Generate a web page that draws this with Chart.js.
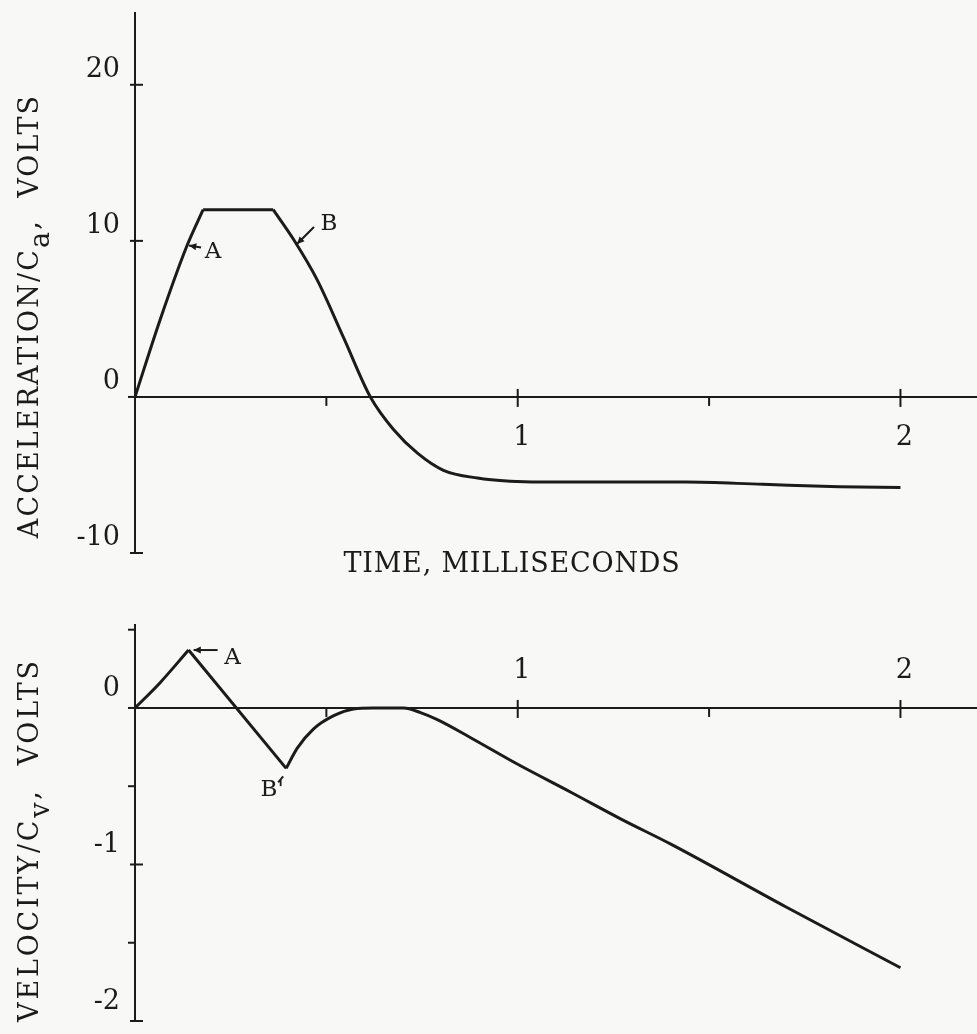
<!DOCTYPE html>
<html>
<head>
<meta charset="utf-8">
<script src="https://cdn.jsdelivr.net/npm/chart.js@4.4.1/dist/chart.umd.min.js"></script>
<style>
  html, body { margin: 0; padding: 0; background: #f8f8f6; }
  #page { position: relative; width: 977px; height: 1034px; overflow: hidden; }
  canvas { position: absolute; left: 0; }
  #accCanvas { top: 0; }
  #velCanvas { top: 590px; }
  .title {
    position: absolute; white-space: nowrap; color: #1b1b1b;
    font-family: "DejaVu Serif", serif; font-size: 27px;
  }
  .ytitle { transform: translate(-50%, -50%) rotate(-90deg); }
  .ytitle sub { font-size: 27px; vertical-align: -11px; line-height: 0; }
  #accTitle { left: 28px; top: 316px; letter-spacing: 2.1px; }
  #velTitle { left: 28px; top: 840px; letter-spacing: 2.8px; }
  #timeTitle { left: 512px; top: 562px; transform: translate(-50%, -50%); letter-spacing: 0.8px; }
</style>
</head>
<body>
<div id="page">
  <canvas id="accCanvas" width="977" height="570"></canvas>
  <canvas id="velCanvas" width="977" height="444"></canvas>
  <div class="title ytitle" id="accTitle">ACCELERATION/C<sub>a</sub>,&nbsp; VOLTS</div>
  <div class="title ytitle" id="velTitle">VELOCITY/C<sub>v</sub>,&nbsp; VOLTS</div>
  <div class="title" id="timeTitle">TIME, MILLISECONDS</div>
</div>
<script>
// time axis, milliseconds
const timeLabelTicks = [1, 2];
const timeMinorTicks = [0.5, 1.5];

// acceleration trace (volts), in three pieces: rise, flat top, fall + tail
const accRiseTime  = [0, 0.065, 0.136, 0.178];
const accRiseVolts = [0, 4.9, 9.7, 12.0];
const accFlatTime  = [0.178, 0.361];
const accFlatVolts = [12.0, 12.0];
const accFallTime  = [0.361, 0.414, 0.476, 0.545, 0.615, 0.676, 0.738, 0.806, 0.895, 0.98, 1.06, 1.14, 1.44, 1.64, 1.84, 2.0];
const accFallVolts = [12.0, 10.1, 7.5, 3.8, 0, -2.1, -3.6, -4.7, -5.2, -5.4, -5.45, -5.45, -5.45, -5.6, -5.75, -5.8];
const accLabelTicks = [20, 10, 0, -10];
const accMajorTicks = [20, 10, -10];
const accNoteTime  = [0.136, 0.418];
const accNoteVolts = [9.7, 9.8];
const accNoteText  = ["A", "B"];

// velocity trace (volts): rise to A, straight drop to B, then the smooth tail
const velRiseTime  = [0, 0.065, 0.14];
const velRiseVolts = [0, 0.16, 0.37];
const velDropTime  = [0.14, 0.395];
const velDropVolts = [0.37, -0.386];
const velTailTime  = [0.395, 0.424, 0.466, 0.518, 0.571, 0.623, 0.702, 0.746, 0.79, 0.877, 1.0, 1.14, 1.27, 1.4, 1.7, 2.0];
const velTailVolts = [-0.386, -0.257, -0.135, -0.051, -0.006, 0, 0, -0.03, -0.075, -0.19, -0.36, -0.54, -0.71, -0.87, -1.27, -1.66];
const velLabelTicks = [0, -1, -2];
const velMajorTicks = [-1, -2];
const velMinorTicks = [0.5, -0.5, -1.5];
const velNoteTime  = [0.14, 0.395];
const velNoteVolts = [0.37, -0.386];
const velNoteText  = ["A", "B'"];

const ink = "#1b1b1b";
const fontFamily = "'DejaVu Serif', serif";

const toPoints = (xs, ys) => xs.map((x, i) => ({ x, y: ys[i] }));

// crossing / one-sided tick marks on both axes
const tickMarks = {
    id: "tickMarks",
    afterDraw(chart, _args, opts) {
        const { ctx, chartArea } = chart;
        const xs = chart.scales.x;
        const ys = chart.scales.y;
        const left = chartArea.left;
        const y0 = ys.getPixelForValue(0);
        const line = (a, b, c, d) => { ctx.beginPath(); ctx.moveTo(a, b); ctx.lineTo(c, d); ctx.stroke(); };
        ctx.save();
        ctx.strokeStyle = ink;
        ctx.lineWidth = 2;
        line(left - 7, y0, left, y0);
        (opts.yMajor || []).forEach((v) => { const p = ys.getPixelForValue(v); line(left - 5, p, left + 8, p); });
        (opts.yMinor || []).forEach((v) => { const p = ys.getPixelForValue(v); line(left - 7, p, left, p); });
        (opts.xMajor || []).forEach((v) => { const p = xs.getPixelForValue(v); line(p, y0 - 8, p, y0 + 10); });
        (opts.xMinor || []).forEach((v) => { const p = xs.getPixelForValue(v); line(p, y0, p, y0 + 9); });
        ctx.restore();
    },
};

// hand-lettered "A" / "B" call-outs with little arrows
const callouts = {
    id: "callouts",
    afterDatasetsDraw(chart, _args, opts) {
        const { ctx } = chart;
        const xs = chart.scales.x;
        const ys = chart.scales.y;
        ctx.save();
        ctx.strokeStyle = ink;
        ctx.fillStyle = ink;
        ctx.lineWidth = 2;
        ctx.font = "23px " + fontFamily;
        ctx.textAlign = "center";
        ctx.textBaseline = "middle";
        opts.time.forEach((t, i) => {
            const ax = xs.getPixelForValue(t);
            const ay = ys.getPixelForValue(opts.volts[i]);
            const s = opts.style[i];
            const hx = ax + s.tip[0], hy = ay + s.tip[1];
            const tx = ax + s.tail[0], ty = ay + s.tail[1];
            ctx.beginPath();
            ctx.moveTo(tx, ty);
            ctx.lineTo(hx, hy);
            ctx.stroke();
            if (s.head) {
                const ang = Math.atan2(hy - ty, hx - tx);
                ctx.beginPath();
                ctx.moveTo(hx, hy);
                ctx.lineTo(hx - 8 * Math.cos(ang - 0.45), hy - 8 * Math.sin(ang - 0.45));
                ctx.lineTo(hx - 8 * Math.cos(ang + 0.45), hy - 8 * Math.sin(ang + 0.45));
                ctx.closePath();
                ctx.fill();
            }
            ctx.fillText(opts.text[i], ax + s.label[0], ay + s.label[1]);
        });
        ctx.restore();
    },
};

function makeChart(canvasId, cfg) {
    return new Chart(document.getElementById(canvasId), {
        type: "line",
        data: { datasets: cfg.datasets },
        options: {
            responsive: false,
            animation: false,
            events: [],
            layout: { padding: cfg.padding },
            elements: { point: { radius: 0 } },
            plugins: {
                legend: { display: false },
                tooltip: { enabled: false },
                tickMarks: cfg.marks,
                callouts: cfg.notes,
            },
            scales: {
                x: {
                    type: "linear",
                    min: 0,
                    max: 2.2,
                    position: { y: 0 },
                    grid: { display: false, drawTicks: false },
                    border: { display: true, color: ink, width: 2 },
                    afterBuildTicks: (scale) => { scale.ticks = timeLabelTicks.map((value) => ({ value })); },
                    afterFit: (scale) => {
                        scale.height = 0;
                        scale.paddingLeft = 0;
                        scale.paddingRight = 0;
                    },
                    ticks: {
                        autoSkip: false,
                        maxRotation: 0,
                        color: ink,
                        font: { family: fontFamily, size: 27 },
                        padding: cfg.xLabelPadding,
                        labelOffset: 4,
                        callback: (v) => String(v),
                    },
                },
                y: {
                    type: "linear",
                    min: cfg.yMin,
                    max: cfg.yMax,
                    grid: { display: false, drawTicks: false },
                    border: { display: true, color: ink, width: 2 },
                    afterBuildTicks: (scale) => { scale.ticks = cfg.yLabels.map((value) => ({ value })); },
                    afterFit: (scale) => {
                        scale.width = 135;
                        scale.paddingTop = 0;
                        scale.paddingBottom = 0;
                    },
                    ticks: {
                        color: ink,
                        font: { family: fontFamily, size: 27 },
                        padding: 15,
                        labelOffset: cfg.yLabelOffset,
                        callback: (v) => String(v),
                    },
                },
            },
        },
        plugins: [tickMarks, callouts],
    });
}

const lineStyle = { borderColor: ink, borderWidth: 3, fill: false, pointRadius: 0, borderJoinStyle: "round" };
const smooth = { cubicInterpolationMode: "monotone" };
const straight = { tension: 0 };

makeChart("accCanvas", {
    datasets: [
        { ...lineStyle, ...smooth, data: toPoints(accRiseTime, accRiseVolts) },
        { ...lineStyle, ...straight, data: toPoints(accFlatTime, accFlatVolts) },
        { ...lineStyle, ...smooth, data: toPoints(accFallTime, accFallVolts) },
    ],
    padding: { top: 13, bottom: 17, left: 0, right: 0 },
    yMin: -10,
    yMax: 24.6,
    yLabels: accLabelTicks,
    yLabelOffset: -15,
    xLabelPadding: 25,
    marks: { yMajor: accMajorTicks, yMinor: [], xMajor: timeLabelTicks, xMinor: timeMinorTicks },
    notes: {
        time: accNoteTime,
        volts: accNoteVolts,
        text: accNoteText,
        style: [
            { tip: [2, 0], tail: [14, 2], label: [26, 6], head: true },
            { tip: [2, 0], tail: [19, -17], label: [34, -20], head: true },
        ],
    },
});

makeChart("velCanvas", {
    datasets: [
        { ...lineStyle, ...smooth, data: toPoints(velRiseTime, velRiseVolts) },
        { ...lineStyle, ...straight, data: toPoints(velDropTime, velDropVolts) },
        { ...lineStyle, ...smooth, data: toPoints(velTailTime, velTailVolts) },
    ],
    padding: { top: 35, bottom: 13, left: 0, right: 0 },
    yMin: -2,
    yMax: 0.53,
    yLabels: velLabelTicks,
    yLabelOffset: -19,
    xLabelPadding: -53,
    marks: { yMajor: velMajorTicks, yMinor: velMinorTicks, xMajor: timeLabelTicks, xMinor: timeMinorTicks },
    notes: {
        time: velNoteTime,
        volts: velNoteVolts,
        text: velNoteText,
        style: [
            { tip: [5, 0], tail: [29, 0], label: [44, 8], head: true },
            { tip: [-3, 8], tail: [-8, 14], label: [-14, 22], head: false },
        ],
    },
});
</script>
</body>
</html>
